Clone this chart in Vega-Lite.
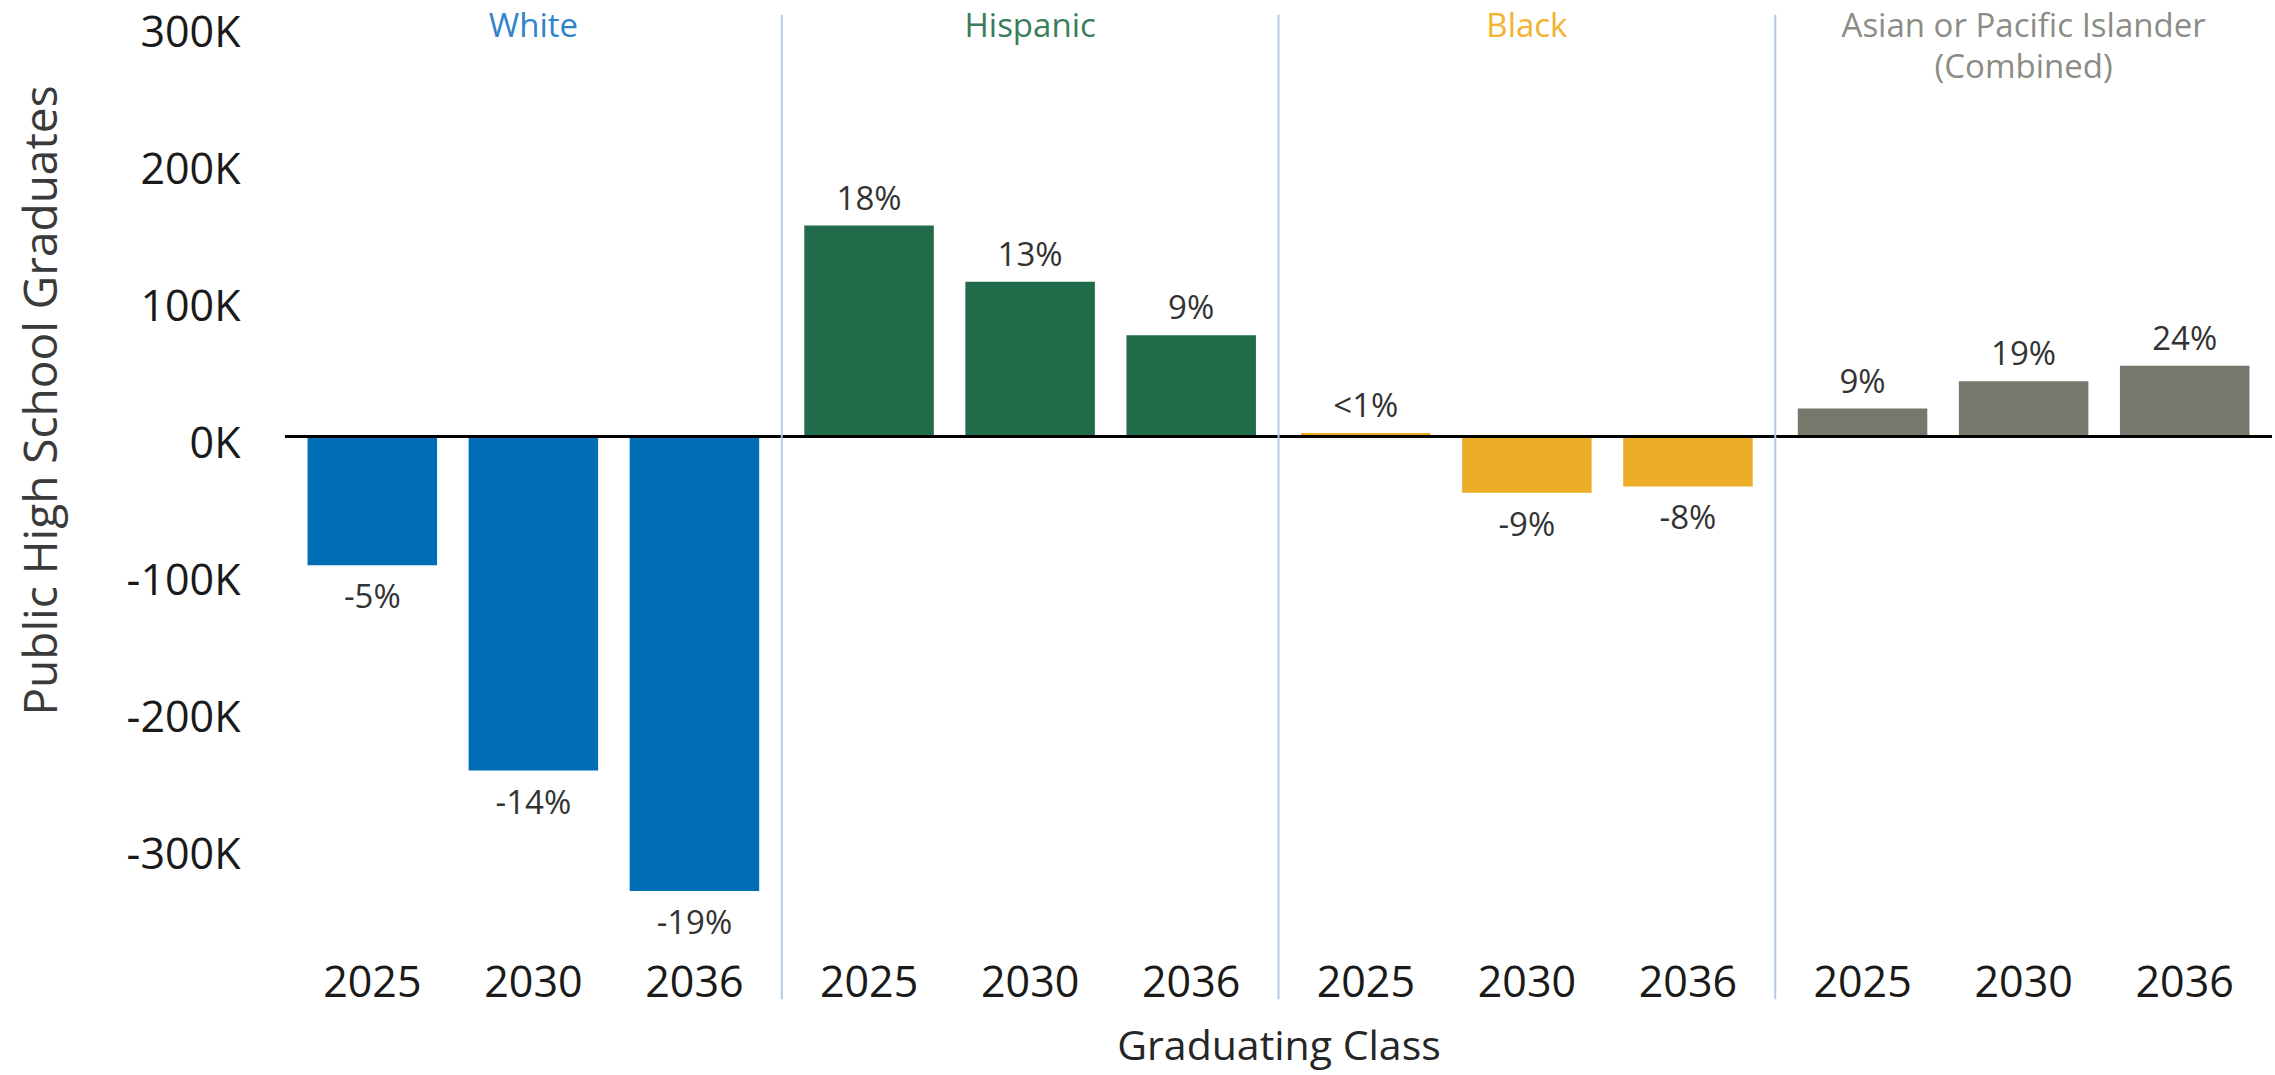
{
  "$schema": "https://vega.github.io/schema/vega-lite/v6.json",
  "autosize": {"type": "none"},
  "width": 1987,
  "height": 938,
  "padding": {"left": 285, "top": 12, "right": 3, "bottom": 125},
  "background": "white",
  "config": {"font": "Open Sans", "view": {"stroke": null}, "axis": {"grid": false}},
  "datasets": {
    "bars": [
      {"group": "White", "year": "2025", "value": -94000, "label": "-5%"},
      {"group": "White", "year": "2030", "value": -244000, "label": "-14%"},
      {"group": "White", "year": "2036", "value": -332000, "label": "-19%"},
      {"group": "Hispanic", "year": "2025", "value": 154000, "label": "18%"},
      {"group": "Hispanic", "year": "2030", "value": 113000, "label": "13%"},
      {"group": "Hispanic", "year": "2036", "value": 74000, "label": "9%"},
      {"group": "Black", "year": "2025", "value": 2500, "label": "<1%"},
      {"group": "Black", "year": "2030", "value": -41000, "label": "-9%"},
      {"group": "Black", "year": "2036", "value": -36500, "label": "-8%"},
      {"group": "Asian", "year": "2025", "value": 20400, "label": "9%"},
      {"group": "Asian", "year": "2030", "value": 40400, "label": "19%"},
      {"group": "Asian", "year": "2036", "value": 51600, "label": "24%"}
    ],
    "headers": [
      {"group": "White", "title": "White"},
      {"group": "Hispanic", "title": "Hispanic"},
      {"group": "Black", "title": "Black"},
      {"group": "Asian", "title": "Asian or Pacific Islander\n(Combined)"}
    ]
  },
  "resolve": {"scale": {"color": "independent"}},
  "layer": [
    {
      "data": {"name": "bars"},
      "mark": {"type": "bar"},
      "encoding": {
        "x": {
          "field": "group", "type": "nominal",
          "scale": {"domain": ["White", "Hispanic", "Black", "Asian"], "paddingInner": 0, "paddingOuter": 0},
          "axis": {
            "labels": false, "ticks": false, "domain": false, "tickSize": 0,
            "title": "Graduating Class", "titleFont": "Open Sans", "titleFontSize": 41,
            "titleFontWeight": "normal", "titleColor": "#262626", "titleY": 77
          }
        },
        "xOffset": {
          "field": "year", "type": "nominal",
          "scale": {"domain": ["2025", "2030", "2036"], "paddingInner": 0.196, "paddingOuter": 0.14}
        },
        "y": {
          "field": "value", "type": "quantitative",
          "scale": {"domain": [-375000, 310000], "nice": false, "zero": false},
          "axis": {
            "values": [-300000, -200000, -100000, 0, 100000, 200000, 300000],
            "labelExpr": "(datum.value / 1000) + 'K'",
            "domain": false, "ticks": false, "tickSize": 0, "grid": false,
            "labelFont": "Open Sans", "labelFontSize": 43, "labelColor": "#1a1a1a",
            "labelPadding": 45, "labelOffset": 8,
            "title": "Public High School Graduates", "titleFont": "Open Sans",
            "titleFontSize": 46, "titleFontWeight": "normal", "titleColor": "#3a3a3a",
            "titleBaseline": "alphabetic", "titleX": -229, "titleY": 388
          }
        },
        "color": {
          "field": "group", "type": "nominal", "legend": null,
          "scale": {"domain": ["White", "Hispanic", "Black", "Asian"], "range": ["#006EB6", "#206B49", "#EBAD26", "#77776B"]}
        }
      }
    },
    {
      "data": {"name": "bars"},
      "mark": {"type": "rule", "color": "#000000", "strokeWidth": 3},
      "transform": [{"filter": "datum.year == '2025' && datum.group == 'White'"}],
      "encoding": {"y": {"datum": 0}}
    },
    {
      "data": {"name": "headers"},
      "transform": [{"filter": "datum.group != 'White'"}],
      "mark": {"type": "rule", "color": "#B6C9E6", "strokeWidth": 2},
      "encoding": {
        "x": {"field": "group", "type": "nominal", "bandPosition": 0},
        "y": {"datum": 308000},
        "y2": {"datum": -411000}
      }
    },
    {
      "data": {"name": "bars"},
      "transform": [{"filter": "datum.value >= 0"}],
      "mark": {"type": "text", "font": "Open Sans", "fontSize": 33, "color": "#333333", "baseline": "middle", "dy": -26},
      "encoding": {
        "x": {"field": "group", "type": "nominal"},
        "xOffset": {"field": "year", "type": "nominal"},
        "y": {"field": "value", "type": "quantitative"},
        "text": {"field": "label"}
      }
    },
    {
      "data": {"name": "bars"},
      "transform": [{"filter": "datum.value < 0"}],
      "mark": {"type": "text", "font": "Open Sans", "fontSize": 33, "color": "#333333", "baseline": "middle", "dy": 33},
      "encoding": {
        "x": {"field": "group", "type": "nominal"},
        "xOffset": {"field": "year", "type": "nominal"},
        "y": {"field": "value", "type": "quantitative"},
        "text": {"field": "label"}
      }
    },
    {
      "data": {"name": "bars"},
      "mark": {"type": "text", "font": "Open Sans", "fontSize": 43, "color": "#1a1a1a", "baseline": "middle"},
      "encoding": {
        "x": {"field": "group", "type": "nominal"},
        "xOffset": {"field": "year", "type": "nominal"},
        "y": {"datum": -400000},
        "text": {"field": "year"}
      }
    },
    {
      "data": {"name": "headers"},
      "mark": {"type": "text", "font": "Open Sans", "fontSize": 33, "baseline": "top", "lineBreak": "\n", "lineHeight": 41},
      "encoding": {
        "x": {"field": "group", "type": "nominal"},
        "y": {"datum": 311000},
        "text": {"field": "title"},
        "color": {
          "field": "group", "type": "nominal", "legend": null,
          "scale": {"domain": ["White", "Hispanic", "Black", "Asian"], "range": ["#2F84CC", "#3B7D5B", "#F2B330", "#8C8C85"]}
        }
      }
    }
  ]
}
